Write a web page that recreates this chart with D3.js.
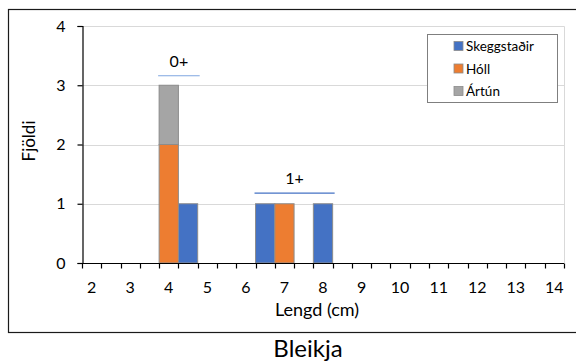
<!DOCTYPE html>
<html>
<head>
<meta charset="utf-8">
<script src="https://cdn.jsdelivr.net/npm/d3@7"></script>
<style>
  html, body { margin: 0; padding: 0; background: #fff; }
  svg { display: block; }
  text { font-family: Lato, "Open Sans", sans-serif; fill: #000; }
</style>
</head>
<body>
<svg id="chart" width="576" height="363"></svg>
<script>
// Length classes (cm), half-centimetre bins
const lengths = ["2", "2.5", "3", "3.5", "4", "4.5", "5", "5.5", "6", "6.5", "7", "7.5", "8",
                 "8.5", "9", "9.5", "10", "10.5", "11", "11.5", "12", "12.5", "13", "13.5", "14"];
const lengthLabels = ["2", "3", "4", "5", "6", "7", "8", "9", "10", "11", "12", "13", "14"];

// Counts per site
const skeggstadir = [0, 0, 0, 0, 0, 1, 0, 0, 0, 1, 0, 0, 1, 0, 0, 0, 0, 0, 0, 0, 0, 0, 0, 0, 0];
const holl        = [0, 0, 0, 0, 2, 0, 0, 0, 0, 0, 1, 0, 0, 0, 0, 0, 0, 0, 0, 0, 0, 0, 0, 0, 0];
const artun       = [0, 0, 0, 0, 1, 0, 0, 0, 0, 0, 0, 0, 0, 0, 0, 0, 0, 0, 0, 0, 0, 0, 0, 0, 0];

const seriesNames = ["Skeggstaðir", "Hóll", "Ártún"];
const seriesColors = ["#4472C4", "#ED7D31", "#A5A5A5"];
const yTicks = [0, 1, 2, 3, 4];

// Age groups marked above the bars: label, first and last length class, line height (count units)
const ageGroups = ["0+", "1+"];
const ageFrom = ["4", "6.5"];
const ageTo = ["4.5", "8"];
const ageLevel = [3.16, 1.18];
const ageLineColors = ["#7FA6E0", "#4472C4"];

const svg = d3.select("#chart");

// Outer chart frame
svg.append("rect")
  .attr("x", 8.5).attr("y", 9.5)
  .attr("width", 570).attr("height", 323)
  .attr("fill", "none").attr("stroke", "#1a1a1a").attr("stroke-width", 1.2);

const plot = { left: 82, right: 564, top: 26, bottom: 263 };

const x = d3.scaleBand().domain(lengths).range([plot.left, plot.right]).padding(0);
const y = d3.scaleLinear().domain([0, 4]).range([plot.bottom, plot.top]);

// Plot area border (top/right)
svg.append("path")
  .attr("d", `M${plot.left},${plot.top + 0.5}H${plot.right + 0.5}V${plot.bottom}`)
  .attr("fill", "none").attr("stroke", "#D9D9D9");

// Horizontal gridlines
svg.append("g").selectAll("line")
  .data(yTicks.filter(d => d > 0))
  .join("line")
  .attr("x1", plot.left).attr("x2", plot.right)
  .attr("y1", d => Math.round(y(d)) + 0.5).attr("y2", d => Math.round(y(d)) + 0.5)
  .attr("stroke", "#D9D9D9");

// Stacked columns
const table = lengths.map((l, i) => ({ len: l, "Skeggstaðir": skeggstadir[i], "Hóll": holl[i], "Ártún": artun[i] }));
const stack = d3.stack().keys(seriesNames)(table);

svg.append("g").selectAll("g")
  .data(stack)
  .join("g")
  .attr("fill", (d, i) => seriesColors[i])
  .selectAll("rect")
  .data(d => d.filter(s => s[1] - s[0] > 0))
  .join("rect")
  .attr("x", d => x(d.data.len))
  .attr("width", x.bandwidth())
  .attr("y", d => y(d[1]))
  .attr("height", d => y(d[0]) - y(d[1]))
  .attr("stroke", "#8C8C8C")
  .attr("stroke-width", 1);

// Y axis
const yAxis = svg.append("g")
  .attr("transform", `translate(${plot.left + 0.5},0)`)
  .call(d3.axisLeft(y).tickValues(yTicks).tickFormat(d3.format("d")).tickSize(5).tickPadding(12));
yAxis.select(".domain").attr("stroke", "#000").attr("stroke-width", 1.2);
yAxis.selectAll(".tick line").attr("stroke", "#000").attr("stroke-width", 1.2);
yAxis.selectAll("text").attr("font-size", 16).attr("font-family", "Lato, sans-serif");

// X axis: line with tick marks on every bin edge, labels every whole cm
const xBase = svg.append("g").attr("transform", `translate(0,${plot.bottom + 0.5})`);
xBase.append("line")
  .attr("x1", plot.left).attr("x2", plot.right)
  .attr("stroke", "#000").attr("stroke-width", 1.2);
const edges = lengths.map(l => x(l)).concat([x(lengths[lengths.length - 1]) + x.bandwidth()]);
xBase.selectAll("line.edge")
  .data(edges)
  .join("line")
  .attr("class", "edge")
  .attr("x1", d => Math.round(d) + 0.5).attr("x2", d => Math.round(d) + 0.5)
  .attr("y1", 0).attr("y2", 5)
  .attr("stroke", "#000").attr("stroke-width", 1.2);

const xAxis = svg.append("g")
  .attr("transform", `translate(0,${plot.bottom})`)
  .call(d3.axisBottom(x).tickValues(lengthLabels).tickSize(0));
xAxis.select(".domain").remove();
xAxis.selectAll("text")
  .attr("y", 30).attr("dy", 0)
  .attr("font-size", 16).attr("font-family", "Lato, sans-serif");

// Age group markers
ageGroups.forEach((g, i) => {
  const x0 = x(ageFrom[i]) - 1;
  const x1 = x(ageTo[i]) + x.bandwidth() + 2;
  const ly = y(ageLevel[i]);
  svg.append("line")
    .attr("x1", x0).attr("x2", x1)
    .attr("y1", ly).attr("y2", ly)
    .attr("stroke", ageLineColors[i]).attr("stroke-width", 1.2);
  svg.append("text")
    .attr("x", (x0 + x1) / 2).attr("y", ly - 9)
    .attr("text-anchor", "middle")
    .attr("font-size", 16)
    .text(g);
});

// Axis titles
svg.append("text")
  .attr("transform", `translate(35,141) rotate(-90)`)
  .attr("text-anchor", "middle")
  .attr("font-size", 17)
  .text("Fjöldi");

svg.append("text")
  .attr("x", 317).attr("y", 316)
  .attr("text-anchor", "middle")
  .attr("font-size", 18)
  .text("Lengd (cm)");

// Chart caption below the frame
svg.append("text")
  .attr("x", 308).attr("y", 357)
  .attr("text-anchor", "middle")
  .attr("font-size", 24)
  .text("Bleikja");

// Legend
const legend = svg.append("g");
legend.append("rect")
  .attr("x", 427.5).attr("y", 34.5)
  .attr("width", 130).attr("height", 68)
  .attr("fill", "#fff").attr("stroke", "#7F7F7F");
const rows = legend.selectAll("g.row")
  .data(seriesNames)
  .join("g")
  .attr("class", "row")
  .attr("transform", (d, i) => `translate(454,${46 + i * 22.5})`);
rows.append("rect")
  .attr("x", 0).attr("y", -4.5)
  .attr("width", 9).attr("height", 9)
  .attr("fill", (d, i) => seriesColors[i])
  .attr("stroke", "#8C8C8C").attr("stroke-width", 0.8);
rows.append("text")
  .attr("x", 12).attr("y", 5)
  .attr("font-size", 13.5)
  .text(d => d);
</script>
</body>
</html>
